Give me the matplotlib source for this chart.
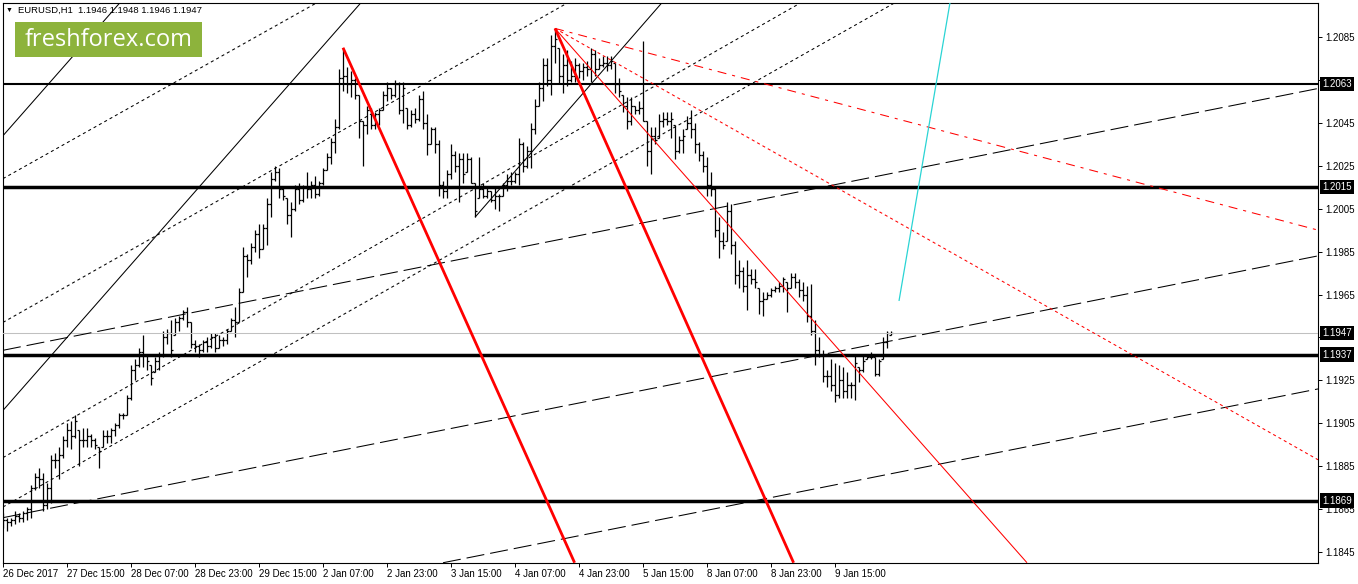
import matplotlib
matplotlib.use("Agg")
import matplotlib.pyplot as plt
from matplotlib.patches import Rectangle
import numpy as np

plt.rcParams["font.family"] = ["Liberation Sans", "DejaVu Sans"]
plt.rcParams["lines.scale_dashes"] = False

# ---- data --------------------------------------------------------------
symbol = "EURUSD,H1"
last_ohlc = [1.1946, 1.1948, 1.1946, 1.1947]

highs = [
    1.1863, 1.1861, 1.1861, 1.1864, 1.1863, 1.1864, 1.1866, 1.1876, 1.1882, 1.1884,
    1.1882, 1.1877, 1.1890, 1.1891, 1.1894, 1.1899, 1.1905, 1.1906, 1.1909, 1.1902,
    1.1903, 1.1903, 1.1900, 1.1898, 1.1894, 1.1902, 1.1902, 1.1903, 1.1905, 1.1910,
    1.1910, 1.1918, 1.1932, 1.1935, 1.1940, 1.1946, 1.1937, 1.1932, 1.1936, 1.1938,
    1.1948, 1.1949, 1.1953, 1.1954, 1.1955, 1.1958, 1.1959, 1.1952, 1.1944, 1.1942,
    1.1944, 1.1945, 1.1947, 1.1947, 1.1946, 1.1945, 1.1949, 1.1954, 1.1959, 1.1968,
    1.1987, 1.1984, 1.1989, 1.1995, 1.1998, 1.1998, 1.2010, 1.2022, 1.2025, 1.2024,
    1.2015, 1.2010, 1.2008, 1.2016, 1.2017, 1.2016, 1.2022, 1.2018, 1.2020, 1.2018,
    1.2024, 1.2031, 1.2038, 1.2047, 1.2070, 1.2080, 1.2071, 1.2069, 1.2066, 1.2058,
    1.2046, 1.2053, 1.2052, 1.2050, 1.2052, 1.2060, 1.2064, 1.2061, 1.2065, 1.2064,
    1.2064, 1.2052, 1.2051, 1.2052, 1.2058, 1.2060, 1.2049, 1.2043, 1.2043, 1.2037,
    1.2018, 1.2023, 1.2035, 1.2032, 1.2031, 1.2031, 1.2031, 1.2029, 1.2017, 1.2029,
    1.2017, 1.2015, 1.2013, 1.2015, 1.2012, 1.2017, 1.2021, 1.2022, 1.2022, 1.2038,
    1.2036, 1.2034, 1.2045, 1.2056, 1.2064, 1.2075, 1.2075, 1.2086, 1.2089, 1.2080,
    1.2077, 1.2079, 1.2074, 1.2075, 1.2073, 1.2073, 1.2074, 1.2080, 1.2079, 1.2075,
    1.2076, 1.2076, 1.2076, 1.2073, 1.2066, 1.2058, 1.2057, 1.2057, 1.2053, 1.2055,
    1.2083, 1.2046, 1.2043, 1.2043, 1.2049, 1.2050, 1.2050, 1.2050, 1.2044, 1.2039,
    1.2042, 1.2048, 1.2051, 1.2045, 1.2036, 1.2032, 1.2029, 1.2022, 1.2015, 1.2001,
    1.1994, 1.2008, 1.2007, 1.1990, 1.1981, 1.1978, 1.1981, 1.1977, 1.1977, 1.1968,
    1.1966, 1.1966, 1.1968, 1.1969, 1.1971, 1.1973, 1.1971, 1.1975, 1.1975, 1.1972,
    1.1971, 1.1969, 1.1970, 1.1953, 1.1945, 1.1939, 1.1930, 1.1935, 1.1933, 1.1932,
    1.1931, 1.1929, 1.1924, 1.1937, 1.1931, 1.1937, 1.1937, 1.1938, 1.1936, 1.1935,
    1.1945, 1.1948, 1.1948,
]
lows = [
    1.1856, 1.1855, 1.1857, 1.1858, 1.1859, 1.1859, 1.1860, 1.1861, 1.1874, 1.1875,
    1.1864, 1.1865, 1.1868, 1.1884, 1.1879, 1.1889, 1.1894, 1.1893, 1.1898, 1.1885,
    1.1894, 1.1894, 1.1894, 1.1893, 1.1884, 1.1894, 1.1896, 1.1896, 1.1899, 1.1903,
    1.1907, 1.1909, 1.1916, 1.1925, 1.1931, 1.1931, 1.1930, 1.1923, 1.1929, 1.1930,
    1.1936, 1.1942, 1.1936, 1.1946, 1.1948, 1.1953, 1.1950, 1.1940, 1.1938, 1.1936,
    1.1938, 1.1938, 1.1940, 1.1938, 1.1940, 1.1941, 1.1942, 1.1948, 1.1945, 1.1952,
    1.1966, 1.1973, 1.1979, 1.1985, 1.1982, 1.1986, 1.1988, 1.2001, 1.2018, 1.2010,
    1.2009, 1.1998, 1.1992, 1.2004, 1.2007, 1.2008, 1.2010, 1.2010, 1.2010, 1.2011,
    1.2016, 1.2023, 1.2026, 1.2031, 1.2042, 1.2060, 1.2059, 1.2057, 1.2056, 1.2038,
    1.2025, 1.2040, 1.2042, 1.2042, 1.2044, 1.2051, 1.2055, 1.2056, 1.2057, 1.2049,
    1.2045, 1.2042, 1.2043, 1.2045, 1.2046, 1.2042, 1.2030, 1.2035, 1.2031, 1.2011,
    1.2010, 1.2010, 1.2019, 1.2022, 1.2008, 1.2017, 1.2022, 1.2017, 1.2001, 1.2010,
    1.2010, 1.2010, 1.2008, 1.2005, 1.2004, 1.2011, 1.2013, 1.2016, 1.2017, 1.2016,
    1.2022, 1.2024, 1.2024, 1.2040, 1.2053, 1.2055, 1.2062, 1.2058, 1.2073, 1.2063,
    1.2059, 1.2062, 1.2064, 1.2064, 1.2066, 1.2065, 1.2067, 1.2064, 1.2067, 1.2070,
    1.2071, 1.2069, 1.2070, 1.2059, 1.2057, 1.2050, 1.2042, 1.2044, 1.2049, 1.2049,
    1.2046, 1.2025, 1.2021, 1.2035, 1.2038, 1.2043, 1.2044, 1.2038, 1.2028, 1.2031,
    1.2031, 1.2042, 1.2038, 1.2031, 1.2027, 1.2022, 1.2011, 1.2011, 1.1992, 1.1982,
    1.1986, 1.1990, 1.1984, 1.1970, 1.1968, 1.1966, 1.1958, 1.1970, 1.1968, 1.1956,
    1.1955, 1.1963, 1.1964, 1.1966, 1.1966, 1.1966, 1.1957, 1.1968, 1.1968, 1.1964,
    1.1962, 1.1952, 1.1946, 1.1932, 1.1936, 1.1924, 1.1922, 1.1920, 1.1915, 1.1917,
    1.1917, 1.1917, 1.1917, 1.1916, 1.1924, 1.1929, 1.1935, 1.1935, 1.1927, 1.1927,
    1.1935, 1.1940, 1.1946,
]
closes = [
    1.1860, 1.1859, 1.1860, 1.1862, 1.1861, 1.1863, 1.1865, 1.1875, 1.1880, 1.1879,
    1.1867, 1.1875, 1.1888, 1.1888, 1.1890, 1.1897, 1.1902, 1.1899, 1.1906, 1.1897,
    1.1897, 1.1899, 1.1897, 1.1895, 1.1892, 1.1899, 1.1899, 1.1902, 1.1904, 1.1909,
    1.1909, 1.1917, 1.1930, 1.1932, 1.1938, 1.1937, 1.1934, 1.1926, 1.1934, 1.1937,
    1.1945, 1.1947, 1.1939, 1.1952, 1.1954, 1.1957, 1.1952, 1.1942, 1.1941, 1.1939,
    1.1943, 1.1941, 1.1945, 1.1940, 1.1944, 1.1944, 1.1948, 1.1953, 1.1952, 1.1966,
    1.1983, 1.1981, 1.1987, 1.1993, 1.1986, 1.1996, 1.2007, 1.2019, 1.2022, 1.2014,
    1.2011, 1.2002, 1.2005, 1.2014, 1.2009, 1.2015, 1.2014, 1.2016, 1.2012, 1.2017,
    1.2023, 1.2029, 1.2036, 1.2043, 1.2066, 1.2067, 1.2063, 1.2065, 1.2058, 1.2046,
    1.2044, 1.2051, 1.2044, 1.2049, 1.2051, 1.2058, 1.2061, 1.2058, 1.2063, 1.2051,
    1.2061, 1.2044, 1.2049, 1.2047, 1.2056, 1.2045, 1.2035, 1.2042, 1.2035, 1.2016,
    1.2013, 1.2021, 1.2030, 1.2025, 1.2028, 1.2021, 1.2028, 1.2017, 1.2004, 1.2014,
    1.2011, 1.2013, 1.2009, 1.2011, 1.2011, 1.2016, 1.2018, 1.2018, 1.2021, 1.2035,
    1.2025, 1.2032, 1.2042, 1.2053, 1.2061, 1.2072, 1.2065, 1.2081, 1.2084, 1.2067,
    1.2072, 1.2065, 1.2067, 1.2072, 1.2069, 1.2071, 1.2070, 1.2077, 1.2070, 1.2072,
    1.2073, 1.2072, 1.2074, 1.2063, 1.2060, 1.2053, 1.2046, 1.2053, 1.2051, 1.2052,
    1.2046, 1.2032, 1.2039, 1.2037, 1.2046, 1.2047, 1.2046, 1.2047, 1.2032, 1.2037,
    1.2039, 1.2045, 1.2042, 1.2035, 1.2030, 1.2025, 1.2016, 1.2014, 1.1995, 1.1990,
    1.1988, 1.2004, 1.1988, 1.1974, 1.1976, 1.1969, 1.1974, 1.1972, 1.1971, 1.1962,
    1.1963, 1.1965, 1.1967, 1.1968, 1.1969, 1.1972, 1.1968, 1.1973, 1.1971, 1.1967,
    1.1965, 1.1955, 1.1948, 1.1939, 1.1937, 1.1927, 1.1927, 1.1923, 1.1918, 1.1925,
    1.1920, 1.1923, 1.1923, 1.1933, 1.1930, 1.1934, 1.1936, 1.1936, 1.1928, 1.1934,
    1.1943, 1.1947, 1.1947,
]

date_labels = ["26 Dec 2017", "27 Dec 15:00", "28 Dec 07:00", "28 Dec 23:00",
               "29 Dec 15:00", "2 Jan 07:00", "2 Jan 23:00", "3 Jan 15:00",
               "4 Jan 07:00", "4 Jan 23:00", "5 Jan 15:00", "8 Jan 07:00",
               "8 Jan 23:00", "9 Jan 15:00"]
bars_per_label = 16
price_ticks = [1.2085, 1.2065, 1.2045, 1.2025, 1.2005, 1.1985, 1.1965,
               1.1945, 1.1925, 1.1905, 1.1885, 1.1865, 1.1845]
hidden_ticks = [1.2065, 1.1945]   # covered by the level boxes

levels = [1.2063, 1.2015, 1.1937, 1.1869]
bid = 1.1947

# drawn objects as (bar, price) anchor pairs
solid_lines = [((0, 1.2039), (29.25, 1.2101)),
               ((0, 1.1911), (89.5, 1.2101)),
               ((118, 1.2001), (164.75, 1.2101))]
dotted_lines = [((0, 1.2019), (78.5, 1.2101)),
                ((0, 1.1952), (141.25, 1.2101)),
                ((0, 1.1889), (199.5, 1.2101)),
                ((0, 1.1866), (223, 1.2101))]
dashed_lines = [((0, 1.1939), (328.75, 1.2061)),
                ((0, 1.1861), (328.75, 1.1983)),
                ((110, 1.1840), (328.75, 1.1921))]
red_thick = [((85, 1.2080), (142.9, 1.1840)),
             ((138, 1.2089), (197.65, 1.1840))]
red_thin = ((138, 1.2089), (256, 1.1840))
red_dashdot = ((138, 1.2089), (328.75, 1.1995))
red_dotted = ((138, 1.2089), (328.75, 1.1888))
cyan_line = ((224, 1.1962), (236.75, 1.2101))

# ---- figure -------------------------------------------------------------
W, H = 1358, 584
fig = plt.figure(figsize=(W / 100, H / 100), dpi=100)
ax = fig.add_axes([3 / W, 1 - 563 / H, 1315 / W, 560 / H])
ax.set_xlim(0, 328.75)
ax.set_ylim(1.183988, 1.210084)

x = np.arange(len(highs))
hi = np.array(highs)
lo = np.array(lows)
cl = np.array(closes)
# forex bars open where the previous one closed
op = np.clip(np.r_[cl[0], cl[:-1]], lo, hi)
op[-1] = last_ohlc[0]

ax.vlines(x, lo, hi, color="black", lw=0.9, zorder=2)
ax.hlines(op, x - 0.45, x, color="black", lw=0.9, zorder=2)
ax.hlines(cl, x, x + 0.45, color="black", lw=0.9, zorder=2)


def seg(line, **kw):
    (x0, y0), (x1, y1) = line
    ax.plot([x0, x1], [y0, y1], solid_capstyle="butt", **kw)


ax.axhline(bid, color="#c0c0c0", lw=0.75, zorder=3)
for lv in levels:
    ax.axhline(lv, color="black", lw=1.5 if lv == levels[0] else 2.5, zorder=4)

for ln in solid_lines:
    seg(ln, color="black", lw=0.75, zorder=4)
for ln in dotted_lines:
    seg(ln, color="black", lw=0.75, ls=(0, (2.2, 2.2)), zorder=4)
for ln in dashed_lines:
    seg(ln, color="black", lw=0.75, ls=(0, (13, 4.3)), zorder=4)
for ln in red_thick:
    seg(ln, color="red", lw=2.0, zorder=5)
seg(red_thin, color="red", lw=0.75, zorder=5)
seg(red_dashdot, color="red", lw=0.75, ls=(0, (6.5, 4.3, 2.2, 4.3)), zorder=5)
seg(red_dotted, color="red", lw=0.75, ls=(0, (2.2, 2.2)), zorder=5)
seg(cyan_line, color="#2ad4d4", lw=0.9, zorder=5)

# axes / ticks
for s in ax.spines.values():
    s.set_linewidth(0.8)
ax.yaxis.tick_right()
ax.set_yticks(price_ticks)
ax.set_yticklabels(["" if p in hidden_ticks else f"{p:.4f}" for p in price_ticks])
ax.set_xticks(np.arange(len(date_labels)) * bars_per_label)
ax.set_xticklabels(date_labels)
for t in ax.get_xticklabels():
    t.set_ha("left")
ax.tick_params(axis="y", length=3, width=0.7, pad=2, labelsize=7)
ax.tick_params(axis="x", length=3, width=0.7, pad=1.5, labelsize=7)

for p in levels + [bid]:
    ax.annotate(f"{p:.4f}", xy=(1, p), xycoords=ax.get_yaxis_transform(),
                xytext=(4, 0), textcoords="offset pixels", ha="left",
                va="center", color="white", fontsize=7,
                bbox=dict(boxstyle="square,pad=0.22", fc="black", ec="none"),
                annotation_clip=False, zorder=10)

# header and logo
fig.text(9 / W, 1 - 10 / H, "\u25bc", fontsize=5, ha="center", va="center")
fig.text(18 / W, 1 - 10 / H,
         f"{symbol}  " + " ".join(f"{v:.4f}" for v in last_ohlc),
         fontsize=6.8, va="center")
fig.add_artist(Rectangle((15 / W, 1 - 57 / H), 187 / W, 35 / H,
                         transform=fig.transFigure, fc="#8db33c", ec="none",
                         zorder=5))
fig.text(108.5 / W, 1 - 40 / H, "freshforex.com", family="Open Sans",
         fontsize=17, color="white", ha="center", va="center", zorder=6)

fig.savefig("out.png", dpi=100)
